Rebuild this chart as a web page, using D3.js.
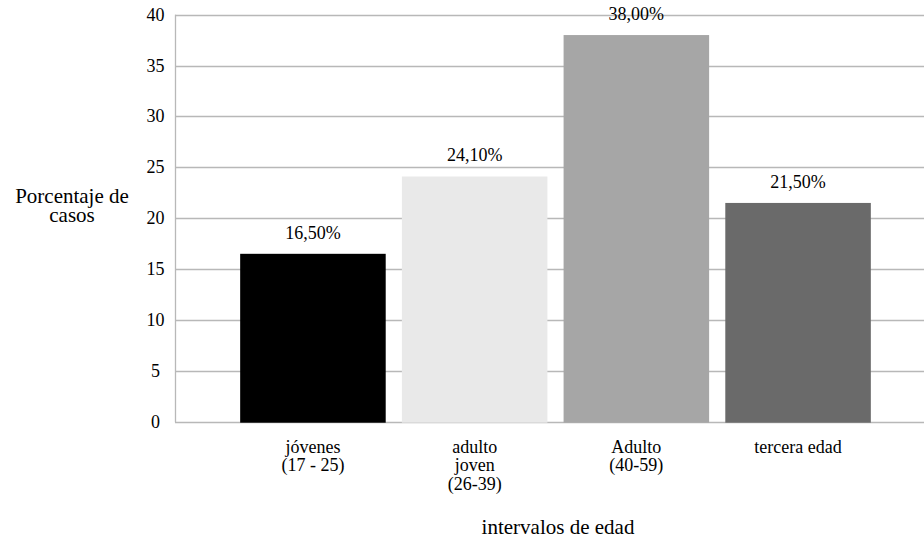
<!DOCTYPE html>
<html><head><meta charset="utf-8">
<script src="https://cdn.jsdelivr.net/npm/d3@7"></script>
<style>
html,body{margin:0;padding:0;background:#fff;}
svg{display:block;}
text{font-family:"Liberation Serif","Times New Roman",serif;fill:#000;}
</style></head>
<body>
<svg id="chart" width="924" height="539"></svg>
<script>
const categories = [["jóvenes","(17 - 25)"],["adulto","joven","(26-39)"],["Adulto","(40-59)"],["tercera edad"]];
const values = [16.5, 24.1, 38.0, 21.5];
const valueLabels = ["16,50%","24,10%","38,00%","21,50%"];
const barColors = ["#000000","#e9e9e9","#a6a6a6","#6a6a6a"];
const yTicks = [0,5,10,15,20,25,30,35,40];
const yTitle = ["Porcentaje de","casos"];
const xTitle = "intervalos de edad";

(function(){
const svg = d3.select("#chart");
const mLeft = 175, mRight = 936, mTop = 14.7, mBottom = 421.7;

const x = d3.scaleBand().domain(d3.range(categories.length)).range([mLeft, mRight]).paddingInner(0.1).paddingOuter(0.403);
const y = d3.scaleLinear().domain([0, 40]).range([mBottom, mTop]);

// gridlines
svg.append("g").selectAll("line").data(yTicks).join("line")
  .attr("x1", mLeft).attr("x2", 924)
  .attr("y1", d => Math.round(y(d)) + 0.5).attr("y2", d => Math.round(y(d)) + 0.5)
  .attr("stroke", "#b8b8b8").attr("stroke-width", 1.3);

// y axis line
svg.append("line").attr("x1", mLeft + 0.5).attr("x2", mLeft + 0.5)
  .attr("y1", y(40)).attr("y2", y(0) + 0.5)
  .attr("stroke", "#b8b8b8").attr("stroke-width", 1.3);

// tick labels
svg.append("g").selectAll("text").data(yTicks).join("text")
  .attr("x", 155.5).attr("y", d => y(d) + 6)
  .attr("text-anchor", "middle").attr("font-size", 18)
  .text(d => d);

// bars
svg.append("g").selectAll("rect").data(values).join("rect")
  .attr("x", (d, i) => x(i)).attr("width", x.bandwidth())
  .attr("y", d => y(d)).attr("height", d => y(0) - y(d) + 1)
  .attr("fill", (d, i) => barColors[i]);

// value labels
svg.append("g").selectAll("text").data(values).join("text")
  .attr("x", (d, i) => x(i) + x.bandwidth() / 2)
  .attr("y", d => y(d) - 15)
  .attr("text-anchor", "middle").attr("font-size", 18)
  .text((d, i) => valueLabels[i]);

// category labels
const cg = svg.append("g").selectAll("text").data(categories).join("text")
  .attr("text-anchor", "middle").attr("font-size", 18)
  .attr("x", (d, i) => x(i) + x.bandwidth() / 2)
  .attr("y", 452.7);
cg.selectAll("tspan").data(d => d).join("tspan")
  .attr("x", function(){ return this.parentNode.getAttribute("x"); })
  .attr("dy", (d, j) => j === 0 ? 0 : 18.7)
  .text(d => d);

// y title
svg.append("text").attr("text-anchor", "middle").attr("font-size", 21)
  .attr("x", 72).attr("y", 203)
  .selectAll("tspan").data(yTitle).join("tspan")
  .attr("x", 72).attr("dy", (d, j) => j === 0 ? 0 : 18.5).text(d => d);

// x title
svg.append("text").attr("text-anchor", "middle").attr("font-size", 21)
  .attr("x", 558).attr("y", 534).text(xTitle);
})();
</script>
</body></html>
